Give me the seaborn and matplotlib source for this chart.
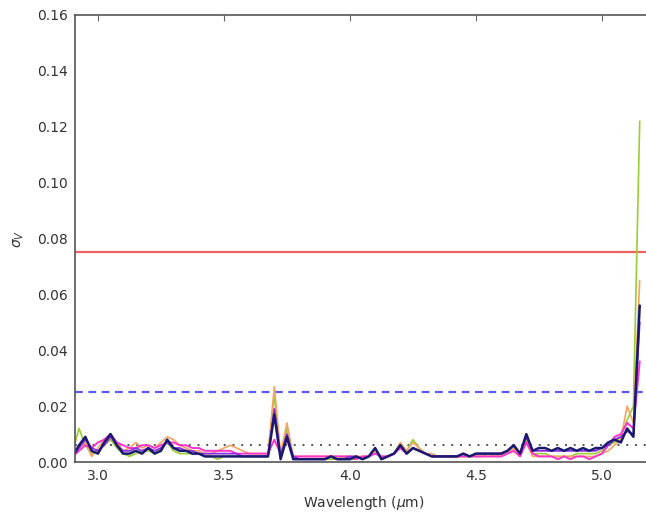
import numpy as np
import pandas as pd
import matplotlib
matplotlib.use("Agg")
import matplotlib.pyplot as plt
import seaborn as sns

# ---------------- data ----------------
wavelength = [
    2.900, 2.925, 2.950, 2.975, 3.000, 3.025, 3.050, 3.075, 3.100, 3.125,
    3.150, 3.175, 3.200, 3.225, 3.250, 3.275, 3.300, 3.325, 3.350, 3.375,
    3.400, 3.425, 3.450, 3.475, 3.500, 3.525, 3.550, 3.575, 3.600, 3.625,
    3.650, 3.675, 3.700, 3.725, 3.750, 3.775, 3.800, 3.825, 3.850, 3.875,
    3.900, 3.925, 3.950, 3.975, 4.000, 4.025, 4.050, 4.075, 4.100, 4.125,
    4.150, 4.175, 4.200, 4.225, 4.250, 4.275, 4.300, 4.325, 4.350, 4.375,
    4.400, 4.425, 4.450, 4.475, 4.500, 4.525, 4.550, 4.575, 4.600, 4.625,
    4.650, 4.675, 4.700, 4.725, 4.750, 4.775, 4.800, 4.825, 4.850, 4.875,
    4.900, 4.925, 4.950, 4.975, 5.000, 5.025, 5.050, 5.075, 5.100, 5.125,
    5.150,
]

sigma_green = [
    0.004, 0.012, 0.006, 0.003, 0.004, 0.006, 0.008, 0.005, 0.003, 0.002,
    0.003, 0.004, 0.004, 0.003, 0.005, 0.007, 0.004, 0.003, 0.003, 0.003,
    0.003, 0.002, 0.002, 0.001, 0.002, 0.002, 0.002, 0.002, 0.002, 0.002,
    0.002, 0.002, 0.024, 0.002, 0.012, 0.002, 0.001, 0.001, 0.001, 0.001,
    0.001, 0.001, 0.001, 0.002, 0.001, 0.001, 0.002, 0.002, 0.004, 0.001,
    0.002, 0.003, 0.006, 0.004, 0.008, 0.005, 0.003, 0.002, 0.002, 0.002,
    0.002, 0.002, 0.002, 0.002, 0.002, 0.002, 0.003, 0.002, 0.002, 0.003,
    0.005, 0.003, 0.008, 0.003, 0.003, 0.003, 0.002, 0.002, 0.002, 0.002,
    0.003, 0.003, 0.003, 0.003, 0.004, 0.006, 0.007, 0.009, 0.015, 0.020,
    0.122,
]

sigma_orange = [
    0.003, 0.005, 0.007, 0.002, 0.005, 0.008, 0.009, 0.007, 0.004, 0.005,
    0.007, 0.005, 0.006, 0.005, 0.007, 0.009, 0.008, 0.006, 0.005, 0.004,
    0.004, 0.003, 0.003, 0.004, 0.005, 0.006, 0.005, 0.004, 0.003, 0.003,
    0.003, 0.003, 0.027, 0.003, 0.014, 0.002, 0.002, 0.002, 0.002, 0.002,
    0.002, 0.002, 0.002, 0.002, 0.002, 0.002, 0.002, 0.002, 0.004, 0.002,
    0.002, 0.003, 0.007, 0.004, 0.007, 0.005, 0.003, 0.003, 0.002, 0.002,
    0.002, 0.002, 0.002, 0.002, 0.002, 0.002, 0.002, 0.002, 0.003, 0.003,
    0.005, 0.002, 0.007, 0.002, 0.002, 0.002, 0.002, 0.002, 0.002, 0.002,
    0.002, 0.002, 0.002, 0.002, 0.003, 0.004, 0.006, 0.008, 0.020, 0.014,
    0.065,
]

sigma_magenta = [
    0.002, 0.004, 0.006, 0.005, 0.007, 0.008, 0.010, 0.007, 0.006, 0.005,
    0.005, 0.006, 0.006, 0.005, 0.006, 0.007, 0.007, 0.006, 0.006, 0.005,
    0.005, 0.004, 0.004, 0.004, 0.004, 0.004, 0.003, 0.003, 0.003, 0.003,
    0.003, 0.003, 0.008, 0.003, 0.008, 0.002, 0.002, 0.002, 0.002, 0.002,
    0.002, 0.002, 0.002, 0.002, 0.002, 0.001, 0.002, 0.002, 0.003, 0.002,
    0.002, 0.003, 0.005, 0.003, 0.005, 0.004, 0.003, 0.002, 0.002, 0.002,
    0.002, 0.002, 0.002, 0.002, 0.002, 0.002, 0.002, 0.002, 0.002, 0.003,
    0.004, 0.002, 0.007, 0.003, 0.002, 0.002, 0.002, 0.001, 0.002, 0.001,
    0.002, 0.002, 0.001, 0.002, 0.003, 0.006, 0.009, 0.010, 0.014, 0.012,
    0.036,
]

sigma_purple = [
    0.002, 0.005, 0.008, 0.005, 0.004, 0.006, 0.009, 0.006, 0.004, 0.004,
    0.005, 0.004, 0.005, 0.004, 0.005, 0.007, 0.005, 0.005, 0.004, 0.004,
    0.003, 0.003, 0.003, 0.003, 0.003, 0.003, 0.003, 0.002, 0.002, 0.002,
    0.002, 0.002, 0.019, 0.002, 0.010, 0.002, 0.001, 0.001, 0.001, 0.001,
    0.001, 0.002, 0.001, 0.001, 0.002, 0.002, 0.001, 0.002, 0.005, 0.001,
    0.002, 0.003, 0.006, 0.003, 0.005, 0.004, 0.003, 0.002, 0.002, 0.002,
    0.002, 0.002, 0.003, 0.002, 0.003, 0.003, 0.003, 0.003, 0.003, 0.004,
    0.006, 0.003, 0.009, 0.004, 0.004, 0.004, 0.004, 0.004, 0.004, 0.004,
    0.004, 0.004, 0.004, 0.004, 0.005, 0.006, 0.008, 0.009, 0.011, 0.010,
    0.050,
]

sigma_navy = [
    0.002, 0.006, 0.009, 0.004, 0.003, 0.007, 0.010, 0.006, 0.003, 0.003,
    0.004, 0.003, 0.005, 0.003, 0.004, 0.008, 0.005, 0.004, 0.004, 0.003,
    0.003, 0.002, 0.002, 0.002, 0.002, 0.002, 0.002, 0.002, 0.002, 0.002,
    0.002, 0.002, 0.017, 0.001, 0.009, 0.001, 0.001, 0.001, 0.001, 0.001,
    0.001, 0.002, 0.001, 0.001, 0.001, 0.002, 0.001, 0.002, 0.005, 0.001,
    0.002, 0.003, 0.006, 0.003, 0.005, 0.004, 0.003, 0.002, 0.002, 0.002,
    0.002, 0.002, 0.003, 0.002, 0.003, 0.003, 0.003, 0.003, 0.003, 0.004,
    0.006, 0.003, 0.010, 0.004, 0.005, 0.005, 0.004, 0.005, 0.004, 0.005,
    0.004, 0.005, 0.004, 0.005, 0.005, 0.007, 0.008, 0.007, 0.012, 0.009,
    0.056,
]

series_names = ["green", "orange", "magenta", "purple", "navy"]
series_colors = ["#9acd32", "#f4a460", "#ff33cc", "#8a2be2", "#191970"]
series_widths = [1.2, 1.2, 1.4, 1.3, 1.8]

ref_red = 0.075
ref_blue = 0.025
ref_black = 0.006

y_ticks = [0.00, 0.02, 0.04, 0.06, 0.08, 0.10, 0.12, 0.14, 0.16]
x_ticks = [3.0, 3.5, 4.0, 4.5, 5.0]

# ---------------- build long table ----------------
all_series = [sigma_green, sigma_orange, sigma_magenta, sigma_purple, sigma_navy]
frames = []
for name, vals in zip(series_names, all_series):
    frames.append(pd.DataFrame({"wavelength": wavelength, "sigma": vals, "series": name}))
df = pd.concat(frames, ignore_index=True)

# ---------------- style ----------------
sns.set_style("white")
plt.rcParams["font.family"] = ["DejaVu Sans"]
plt.rcParams["xtick.direction"] = "in"
plt.rcParams["ytick.direction"] = "in"

fig = plt.figure(figsize=(6.46, 5.13), dpi=100)
ax = fig.add_axes([75 / 646, 51 / 513, 578 / 646, 447 / 513])

ax.axhline(ref_red, color="#f06060", lw=1.6, zorder=1)
ax.axhline(ref_blue, color="#5a5af5", lw=1.6, linestyle=(0, (3.5, 2.5)), zorder=1)
ax.axhline(ref_black, color="#555555", lw=1.4, linestyle=(0, (1, 3.5)), zorder=1)

sns.lineplot(data=df, x="wavelength", y="sigma", hue="series",
             hue_order=series_names, palette=series_colors,
             lw=1.3, legend=False, ax=ax, sort=False, estimator=None)
for line, w in zip(ax.get_lines()[3:], series_widths):
    line.set_linewidth(w)

ax.set_xlim(2.909, 5.2027)
ax.set_ylim(0, 0.16)
ax.set_xticks(x_ticks)
ax.set_xticklabels([f"{t:.1f}" for t in x_ticks])
ax.set_yticks(y_ticks)
ax.set_yticklabels([f"{t:.2f}" for t in y_ticks])

ax.tick_params(axis="both", which="both", top=True, right=True, length=4,
               width=0.8, color="#666666", labelsize=10, labelcolor="#333333",
               pad=5)
for sp in ax.spines.values():
    sp.set_color("#555555")
    sp.set_linewidth(1.2)

ax.set_xlabel(r"Wavelength ($\mu$m)", fontsize=10, color="#333333", labelpad=8)
ax.set_ylabel(r"$\sigma_V$", fontsize=10, color="#333333", labelpad=8)

fig.savefig("out.png", dpi=100)
